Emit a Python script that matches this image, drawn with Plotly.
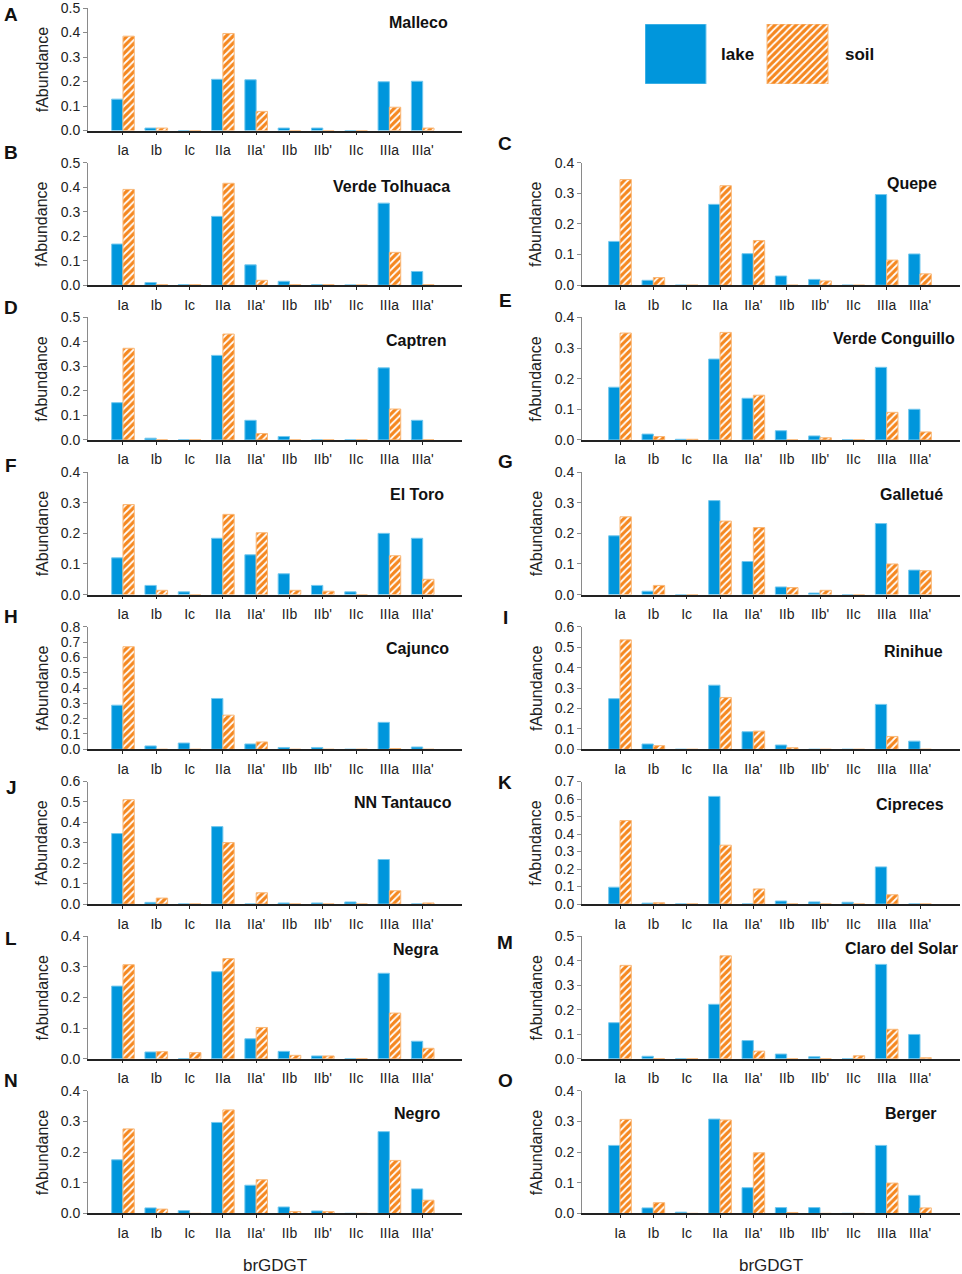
import plotly.graph_objects as go

# ---------------- data ----------------
categories = ["Ia", "Ib", "Ic", "IIa", "IIa'", "IIb", "IIb'", "IIc", "IIIa", "IIIa'"]
series_names = ["lake", "soil"]

malleco_lake = [0.128, 0.010, 0.000, 0.209, 0.207, 0.010, 0.010, 0.000, 0.199, 0.201]
malleco_soil = [0.385, 0.010, 0.000, 0.396, 0.078, 0.000, 0.000, 0.000, 0.095, 0.010]

verde_tolhuaca_lake = [0.168, 0.011, 0.002, 0.281, 0.083, 0.016, 0.002, 0.001, 0.335, 0.056]
verde_tolhuaca_soil = [0.391, 0.002, 0.002, 0.416, 0.020, 0.002, 0.002, 0.001, 0.134, 0.002]

quepe_lake = [0.143, 0.016, 0.000, 0.264, 0.103, 0.030, 0.019, 0.000, 0.296, 0.102]
quepe_soil = [0.345, 0.025, 0.000, 0.325, 0.146, 0.000, 0.014, 0.000, 0.082, 0.037]

captren_lake = [0.152, 0.007, 0.000, 0.345, 0.080, 0.014, 0.000, 0.000, 0.294, 0.080]
captren_soil = [0.374, 0.000, 0.000, 0.432, 0.026, 0.000, 0.000, 0.000, 0.126, 0.000]

verde_conguillo_lake = [0.172, 0.019, 0.002, 0.264, 0.136, 0.030, 0.013, 0.000, 0.237, 0.100]
verde_conguillo_soil = [0.349, 0.011, 0.002, 0.351, 0.146, 0.000, 0.007, 0.000, 0.090, 0.026]

el_toro_lake = [0.120, 0.030, 0.009, 0.184, 0.130, 0.068, 0.030, 0.009, 0.200, 0.184]
el_toro_soil = [0.294, 0.014, 0.000, 0.262, 0.202, 0.014, 0.011, 0.000, 0.127, 0.050]

galletue_lake = [0.192, 0.011, 0.000, 0.307, 0.108, 0.025, 0.005, 0.000, 0.232, 0.080]
galletue_soil = [0.254, 0.030, 0.000, 0.240, 0.219, 0.023, 0.014, 0.000, 0.100, 0.078]

cajunco_lake = [0.288, 0.022, 0.041, 0.332, 0.035, 0.012, 0.012, 0.000, 0.176, 0.015]
cajunco_soil = [0.670, 0.000, 0.000, 0.223, 0.048, 0.000, 0.000, 0.000, 0.005, 0.000]

rinihue_lake = [0.248, 0.026, 0.000, 0.314, 0.086, 0.021, 0.000, 0.000, 0.220, 0.040]
rinihue_soil = [0.536, 0.018, 0.000, 0.254, 0.089, 0.008, 0.000, 0.000, 0.063, 0.000]

nn_tantauco_lake = [0.345, 0.008, 0.000, 0.379, 0.000, 0.005, 0.005, 0.010, 0.218, 0.000]
nn_tantauco_soil = [0.511, 0.029, 0.000, 0.301, 0.055, 0.000, 0.000, 0.000, 0.065, 0.005]

cipreces_lake = [0.096, 0.005, 0.000, 0.615, 0.000, 0.017, 0.012, 0.010, 0.212, 0.000]
cipreces_soil = [0.477, 0.007, 0.000, 0.336, 0.086, 0.000, 0.000, 0.000, 0.053, 0.000]

negra_lake = [0.237, 0.022, 0.000, 0.284, 0.065, 0.024, 0.009, 0.000, 0.279, 0.057]
negra_soil = [0.307, 0.023, 0.020, 0.327, 0.102, 0.011, 0.009, 0.000, 0.149, 0.034]

claro_del_solar_lake = [0.147, 0.010, 0.000, 0.222, 0.074, 0.019, 0.008, 0.000, 0.385, 0.099]
claro_del_solar_soil = [0.381, 0.000, 0.000, 0.420, 0.031, 0.000, 0.000, 0.012, 0.120, 0.004]

negro_lake = [0.175, 0.018, 0.009, 0.297, 0.092, 0.021, 0.008, 0.000, 0.267, 0.080]
negro_soil = [0.276, 0.014, 0.000, 0.338, 0.110, 0.006, 0.006, 0.000, 0.173, 0.043]

berger_lake = [0.222, 0.018, 0.004, 0.308, 0.084, 0.019, 0.019, 0.000, 0.222, 0.059]
berger_soil = [0.307, 0.035, 0.000, 0.305, 0.198, 0.003, 0.000, 0.000, 0.099, 0.018]

x_title = "brGDGT"
y_title = "fAbundance"

# ---------------- layout spec (letter, name, lake, soil, ymax, col, row,
#                   name offset (dx,dy) px, letter offset dy px) ----------------
panels = [
    ("A", "Malleco", malleco_lake, malleco_soil, 0.5, 0, 0, (-12, 14), 6.5),
    ("B", "Verde Tolhuaca", verde_tolhuaca_lake, verde_tolhuaca_soil, 0.5, 0, 1, (-10, 24), -10),
    ("C", "Quepe", quepe_lake, quepe_soil, 0.4, 1, 1, (-21, 21), -19),
    ("D", "Captren", captren_lake, captren_soil, 0.5, 0, 2, (-14, 23), -10),
    ("E", "Verde Conguillo", verde_conguillo_lake, verde_conguillo_soil, 0.4, 1, 2, (-3, 21), -17),
    ("F", "El Toro", el_toro_lake, el_toro_soil, 0.4, 0, 3, (-16, 22), -7),
    ("G", "Galletué", galletue_lake, galletue_soil, 0.4, 1, 3, (-15, 22), -11),
    ("H", "Cajunco", cajunco_lake, cajunco_soil, 0.8, 0, 4, (-11, 22), -10),
    ("I", "Rinihue", rinihue_lake, rinihue_soil, 0.6, 1, 4, (-15, 25), -9),
    ("J", "NN Tantauco", nn_tantauco_lake, nn_tantauco_soil, 0.6, 0, 5, (-8, 21), 6),
    ("K", "Cipreces", cipreces_lake, cipreces_soil, 0.7, 1, 5, (-14, 23), 1),
    ("L", "Negra", negra_lake, negra_soil, 0.4, 0, 6, (-22, 13), 2),
    ("M", "Claro del Solar", claro_del_solar_lake, claro_del_solar_soil, 0.5, 1, 6, (0, 12), 6),
    ("N", "Negro", negro_lake, negro_soil, 0.4, 0, 7, (-20, 23), -10),
    ("O", "Berger", berger_lake, berger_soil, 0.4, 1, 7, (-21, 23), -10),
]

W, H = 962, 1274
BLUE = "#0096DC"
BLUE_EDGE = "#74C8EE"
ORANGE = "#F5871F"
ORANGE_EDGE = "#F9B878"
FONT = "Arial, Liberation Sans, sans-serif"

col_x = [(88, 462), (582, 960)]
col_range = [(-1.05, 10.18), (-1.14, 10.2)]
letter_x = [11, 505]
ROW0, ROW_STEP, PH = 8.0, 154.7, 122.5


def px_x(x):
    return x / W


def px_y(y):
    return 1 - y / H


soil_pattern = dict(shape="/", fillmode="overlay", fgcolor="white",
                    fgopacity=1, size=5, solidity=0.35)

fig = go.Figure()
annotations = []
layout_axes = {}

for k, (letter, name, lake, soil, ymax, col, row, name_off, letter_dy) in enumerate(panels, start=1):
    xa = "x" if k == 1 else f"x{k}"
    ya = "y" if k == 1 else f"y{k}"
    xkey = "xaxis" if k == 1 else f"xaxis{k}"
    ykey = "yaxis" if k == 1 else f"yaxis{k}"
    top = ROW0 + ROW_STEP * row
    bottom = top + PH
    x0, x1 = col_x[col]

    fig.add_trace(go.Bar(x=categories, y=lake, name=series_names[0], xaxis=xa, yaxis=ya,
                         marker=dict(color=BLUE, line=dict(color=BLUE_EDGE, width=1)),
                         showlegend=False))
    fig.add_trace(go.Bar(x=categories, y=soil, name=series_names[1], xaxis=xa, yaxis=ya,
                         marker=dict(color=ORANGE, pattern=soil_pattern,
                                     line=dict(color=ORANGE_EDGE, width=1)),
                         showlegend=False))

    layout_axes[xkey] = dict(
        domain=[px_x(x0), px_x(x1)], anchor=ya, type="category",
        categoryorder="array", categoryarray=categories,
        range=list(col_range[col]), showgrid=False, zeroline=False,
        showline=True, linecolor="#222222", linewidth=1.5,
        ticks="outside", ticklen=3, tickcolor="#222222",
        ticklabelstandoff=3, automargin=False,
        tickfont=dict(size=14, color="#222222", family=FONT),
    )
    layout_axes[ykey] = dict(
        domain=[px_y(bottom), px_y(top)], anchor=xa,
        range=[0, ymax + 1e-6], dtick=0.1, tick0=0, tickformat=".1f",
        showgrid=False, zeroline=False, showline=True, automargin=False,
        ticklabeloverflow="allow",
        linecolor="#8a8a8a", linewidth=1, ticks="outside", ticklen=4,
        tickcolor="#8a8a8a", tickfont=dict(size=14, color="#222222", family=FONT),
    )

    # lake name
    annotations.append(dict(
        text=f"<b>{name}</b>", xref=f"{xa} domain", yref=f"{ya} domain",
        x=1, y=1, xanchor="right", yanchor="middle",
        xshift=name_off[0], yshift=-name_off[1], showarrow=False,
        font=dict(size=16, color="#111111", family=FONT)))
    # panel letter
    annotations.append(dict(
        text=f"<b>{letter}</b>", xref="paper", yref="paper",
        x=px_x(letter_x[col]), y=px_y(top + letter_dy), xanchor="center", yanchor="middle",
        showarrow=False, font=dict(size=19, color="#111111", family=FONT)))
    # y title
    annotations.append(dict(
        text=y_title, xref="paper", yref="paper",
        x=px_x(x0 - 46), y=px_y((top + bottom) / 2), xanchor="center", yanchor="middle",
        textangle=-90, showarrow=False,
        font=dict(size=16, color="#222222", family=FONT)))
    # x title on bottom row
    if row == 7:
        annotations.append(dict(
            text=x_title, xref="paper", yref="paper",
            x=px_x((x0 + x1) / 2), y=px_y(bottom + 52), xanchor="center", yanchor="middle",
            showarrow=False, font=dict(size=17, color="#222222", family=FONT)))

# ---------------- legend (drawn as a small bar chart) ----------------
lk = len(panels) + 1
lx0, lx1, ly0, ly1 = 645, 889, 24, 84
for i, nm in enumerate(series_names):
    marker = dict(color=BLUE, line=dict(color=BLUE_EDGE, width=1)) if i == 0 else \
        dict(color=ORANGE, pattern=soil_pattern, line=dict(color=ORANGE_EDGE, width=1))
    fig.add_trace(go.Bar(x=[2 * i + 0.5], y=[1], width=[1], name=nm,
                         xaxis=f"x{lk}", yaxis=f"y{lk}", marker=marker,
                         showlegend=False, hoverinfo="name"))
    annotations.append(dict(
        text=f"<b>{nm}</b>", xref=f"x{lk}", yref=f"y{lk}", x=2 * i + 1.52, y=0.5,
        xanchor="center", yanchor="middle", showarrow=False,
        font=dict(size=17, color="#111111", family=FONT)))
layout_axes[f"xaxis{lk}"] = dict(domain=[px_x(lx0), px_x(lx1)], anchor=f"y{lk}",
                                 range=[0, 4], visible=False, automargin=False)
layout_axes[f"yaxis{lk}"] = dict(domain=[px_y(ly1), px_y(ly0)], anchor=f"x{lk}",
                                 range=[0, 1], visible=False, automargin=False)

fig.update_layout(
    width=W, height=H, margin=dict(l=0, r=0, t=0, b=0, pad=0, autoexpand=False),
    paper_bgcolor="white", plot_bgcolor="white",
    barmode="group", bargap=0.32, bargroupgap=0,
    font=dict(family=FONT, color="#222222"),
    annotations=annotations, showlegend=False,
    **layout_axes,
)

fig.write_html("out.html", config={"displayModeBar": False},
               post_script="document.body.style.margin='0px';")
